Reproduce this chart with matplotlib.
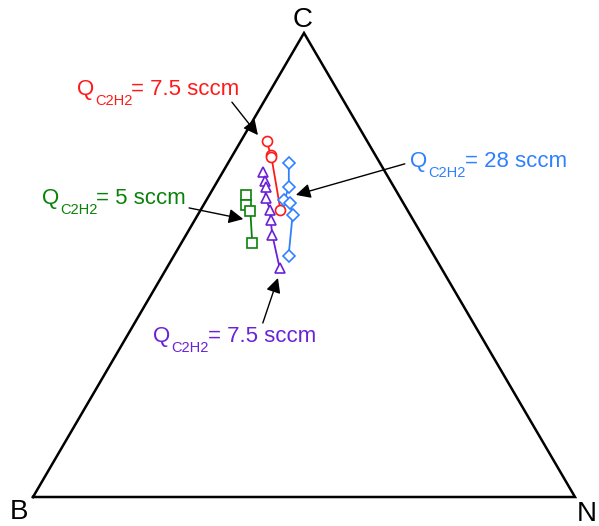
import numpy as np
import matplotlib.pyplot as plt

plt.rcParams['font.family'] = ['Liberation Sans', 'DejaVu Sans']

# ternary fractions (B, N, C)
red_b = [0.185, 0.193, 0.195, 0.234]
red_n = [0.048, 0.070, 0.074, 0.147]
red_c = [0.767, 0.737, 0.732, 0.619]

blue_b = [0.168, 0.194, 0.216, 0.209, 0.217, 0.269]
blue_n = [0.112, 0.138, 0.144, 0.157, 0.175, 0.212]
blue_c = [0.720, 0.668, 0.640, 0.634, 0.608, 0.519]

purple_b = [0.226, 0.232, 0.237, 0.249, 0.253, 0.263, 0.276, 0.298]
purple_n = [0.074, 0.087, 0.095, 0.107, 0.128, 0.140, 0.159, 0.208]
purple_c = [0.700, 0.681, 0.668, 0.644, 0.619, 0.597, 0.565, 0.494]

green_b = [0.282, 0.293, 0.291, 0.322]
green_n = [0.067, 0.078, 0.093, 0.131]
green_c = [0.651, 0.629, 0.616, 0.547]

flows = ['7.5', '5', '7.5', '28']


def to_xy(n, c):
    n = np.asarray(n)
    c = np.asarray(c)
    return n + c / 2, c


def flow_label(ax, x, y, flow, col):
    kw = dict(color=col, ha='left', va='baseline', textcoords='offset points')
    ax.annotate('Q', (x, y), xytext=(0, 0), fontsize=16, **kw)
    ax.annotate('C2H2', (x, y), xytext=(13.2, -7.2), fontsize=10.5, **kw)
    ax.annotate('= ' + flow + ' sccm', (x, y), xytext=(39.3, 0), fontsize=16, **kw)


fig = plt.figure(figsize=(5.99, 5.26), dpi=100)
ax = fig.add_axes([0, 0, 1, 1])
ax.set_xlim(-0.0609, 1.0443)
ax.set_ylim(-0.0625, 1.0711)
ax.axis('off')

# triangle frame
tx, ty = to_xy([0, 1, 0, 0], [0, 0, 1, 0])
ax.plot(tx, ty, color='k', lw=1.8, solid_joinstyle='miter')
ax.text(-0.025, -0.033, 'B', fontsize=20, ha='center', va='center')
ax.text(1.022, -0.037, 'N', fontsize=20, ha='center', va='center')
ax.text(0.498, 1.029, 'C', fontsize=20, ha='center', va='center')

series = [
    (red_n, red_c, '#ff1a1a', 'o', 7.2),
    (blue_n, blue_c, '#2f80ff', 'D', 6.4),
    (purple_n, purple_c, '#6a22d8', '^', 7.4),
    (green_n, green_c, '#0a820a', 's', 7.0),
]
for n, c, col, mk, ms in series:
    x, y = to_xy(n, c)
    ax.plot(x, y, color=col, lw=1.3, marker=mk, ms=ms, mfc='white',
            mec=col, mew=1.2)

# labels and arrows
text_pos = [(0.081, 0.866), (0.016, 0.631), (0.222, 0.334), (0.696, 0.712)]
text_col = ['#ff1a1a', '#0a820a', '#6a22d8', '#2f80ff']
tails = [(0.367, 0.851), (0.288, 0.623), (0.424, 0.375), (0.686, 0.718)]
tips = [(0.415, 0.780), (0.388, 0.599), (0.452, 0.472), (0.485, 0.651)]
for flow, (x, y), col in zip(flows, text_pos, text_col):
    flow_label(ax, x, y, flow, col)
for tail, tip in zip(tails, tips):
    ax.annotate('', xy=tip, xytext=tail,
                arrowprops=dict(arrowstyle='-|>', color='k', lw=1.0,
                                mutation_scale=22, shrinkA=0, shrinkB=0))

fig.savefig('out.png', dpi=100)
